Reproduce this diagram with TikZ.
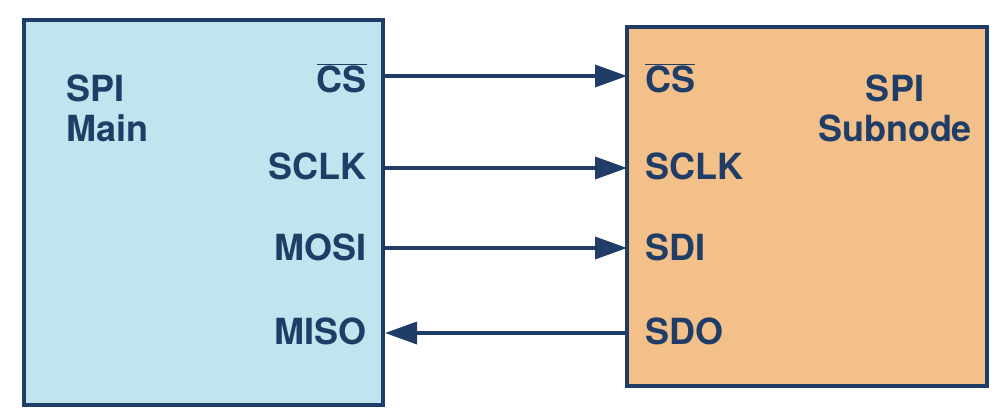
\documentclass[tikz,border=0pt]{standalone}
\usepackage{fontspec}
\setmainfont{TeX Gyre Heros}
\usetikzlibrary{arrows.meta}
\definecolor{navy}{HTML}{1F3D66}
\definecolor{blu}{HTML}{C2E4EE}
\definecolor{org}{HTML}{F4C08A}
\begin{document}
\begin{tikzpicture}[x=1pt,y=-1pt,
  box/.style={draw=navy,line width=3.5pt},
  lbl/.style={text=navy,font=\fontsize{36}{40}\selectfont\bfseries,inner sep=0pt},
  sig/.style={draw=navy,line width=3.5pt,-{Triangle[length=32pt,width=22pt]}}]
\useasboundingbox (0,0) rectangle (996,420);
\path[box,fill=blu] (24,20) rectangle (383,405);
\path[box,fill=org] (627,27) rectangle (987,386);
\node[lbl,anchor=west,align=left] (main) at (66,108) {SPI\\Main};
\node[lbl,align=center] (sub) at (895,108) {SPI\\Subnode};
\node[lbl,anchor=east] (cs) at (367,78) {$\overline{\mbox{CS}}$};
\node[lbl,anchor=east] (sclk) at (367,166) {SCLK};
\node[lbl,anchor=east] (mosi) at (367,247) {MOSI};
\node[lbl,anchor=east] (miso) at (367,331) {MISO};
\node[lbl,anchor=west] (cs2) at (645,78) {$\overline{\mbox{CS}}$};
\node[lbl,anchor=west] (sclk2) at (645,166) {SCLK};
\node[lbl,anchor=west] (sdi) at (645,247) {SDI};
\node[lbl,anchor=west] (sdo) at (645,331) {SDO};
\coordinate (l1) at (385,76); \coordinate (r1) at (627,76);
\coordinate (l2) at (385,168); \coordinate (r2) at (627,168);
\coordinate (l3) at (385,248); \coordinate (r3) at (627,248);
\coordinate (l4) at (385,333); \coordinate (r4) at (627,333);
\draw[sig] (l1) -- (r1);
\draw[sig] (l2) -- (r2);
\draw[sig] (l3) -- (r3);
\draw[sig] (r4) -- (l4);
\end{tikzpicture}
\end{document}
